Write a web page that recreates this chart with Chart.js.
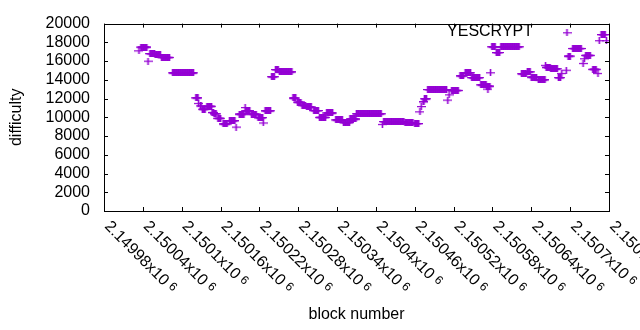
<html>
  <head>
    <script src="https://cdn.jsdelivr.net/npm/chart.js@4.4.0/dist/chart.umd.min.js"></script>
    <style>
      body { margin: 0; background: #fff; }
    </style>
  </head>
  <body>
    <canvas id="diffChart" width="640" height="330"></canvas>
    <script>
      // difficulty stays constant over runs of blocks, so keep the runs
      let firstBlock = 2149980;
      let runFrom = [54, 57, 68, 71, 79, 89, 106, 142, 146, 149, 152, 159, 167, 170, 176, 184, 194, 204, 209, 218,
        219, 228, 238, 246, 249, 259, 265, 271, 292, 299, 306, 313, 324, 333, 344, 358, 370, 380, 390, 430,
        432, 465, 480, 488, 490, 493, 495, 500, 531, 533, 537, 550, 558, 568, 582, 591, 593, 597, 599, 606,
        613, 645, 654, 660, 671, 682, 683, 690, 702, 707, 714, 717, 724, 740, 742, 744, 755, 763, 765, 768, 776];
      let runTo = [54, 66, 68, 78, 87, 101, 138, 145, 146, 150, 156, 166, 169, 173, 180, 190, 202, 204, 216, 218,
        225, 235, 245, 246, 257, 263, 269, 290, 296, 304, 311, 320, 331, 342, 353, 368, 379, 389, 428, 430,
        463, 477, 486, 488, 490, 494, 498, 529, 531, 533, 547, 555, 566, 580, 590, 596, 593, 597, 604, 611,
        641, 652, 658, 668, 681, 682, 689, 700, 705, 707, 714, 720, 737, 740, 742, 751, 760, 763, 765, 774, 776];
      let runDifficulty = [17100, 17500, 16000, 16800, 16700, 16400, 14750, 12080, 11490, 11220, 10870, 11180, 10520, 10380, 9900, 9300, 9650, 8960, 10350, 11040,
        10700, 10350, 9970, 9400, 10700, 14340, 15100, 14860, 12060, 11620, 11280, 11110, 10720, 10000, 10470, 9730, 9440, 9820, 10380, 9250,
        9550, 9400, 9340, 10590, 11150, 11670, 11980, 12970, 11840, 12400, 12880, 14430, 14760, 14240, 13470, 13330, 13020, 14760, 17530, 16920,
        17530, 14650, 14860, 14300, 14020, 15550, 15340, 15180, 14240, 14690, 15030, 16540, 17350, 15760, 16250, 16620, 15130, 14690, 18180, 18840, 18180];

      let xTickValues = [2149980, 2150040, 2150100, 2150160, 2150220, 2150280, 2150340, 2150400, 2150460, 2150520, 2150580, 2150640, 2150700, 2150760];
      let xTickLabels = ["2.14998", "2.15004", "2.1501", "2.15016", "2.15022", "2.15028", "2.15034", "2.1504", "2.15046", "2.15052", "2.15058", "2.15064", "2.1507", "2.15076"];
      let yTickValues = [0, 2000, 4000, 6000, 8000, 10000, 12000, 14000, 16000, 18000, 20000];

      const purple = '#9400d3';
      const fontFamily = '"Liberation Sans", Arial, sans-serif';

      let points = [];
      for (let i = 0; i < runFrom.length; i++) {
        for (let b = runFrom[i]; b <= runTo[i]; b++) {
          points.push({ x: firstBlock + b, y: runDifficulty[i] });
        }
      }

      // gnuplot style "+" marker, a bit wider than tall
      function makeCross() {
        let c = document.createElement('canvas');
        c.width = 9;
        c.height = 7;
        let g = c.getContext('2d');
        g.fillStyle = purple;
        g.fillRect(0, 3, 9, 1.2);
        g.fillRect(3.7, 0, 1.6, 7);
        return c;
      }
      const cross = makeCross();

      const frame = {
        id: 'frame',
        afterDraw(chart) {
          const ctx = chart.ctx;
          const a = chart.chartArea;
          const xs = chart.scales.x;
          const ys = chart.scales.y;
          ctx.save();
          ctx.strokeStyle = '#000';
          ctx.lineWidth = 1;
          ctx.strokeRect(Math.round(a.left) + 0.5, Math.round(a.top) + 0.5, Math.round(a.right - a.left), Math.round(a.bottom - a.top));

          ctx.beginPath();
          xTickValues.forEach(v => {
            let px = Math.round(xs.getPixelForValue(v)) + 0.5;
            ctx.moveTo(px, a.bottom);
            ctx.lineTo(px, a.bottom - 4);
            ctx.moveTo(px, a.top);
            ctx.lineTo(px, a.top + 4);
          });
          yTickValues.forEach(v => {
            let py = Math.round(ys.getPixelForValue(v)) + 0.5;
            ctx.moveTo(a.left, py);
            ctx.lineTo(a.left + 4, py);
            ctx.moveTo(a.right, py);
            ctx.lineTo(a.right - 4, py);
          });
          ctx.stroke();

          // rotated x labels with a superscript exponent
          ctx.fillStyle = '#000';
          ctx.textAlign = 'left';
          ctx.textBaseline = 'middle';
          xTickValues.forEach((v, i) => {
            let px = xs.getPixelForValue(v);
            ctx.save();
            ctx.translate(px + 3, a.bottom + 13);
            ctx.rotate(Math.PI / 4);
            ctx.font = '16px ' + fontFamily;
            let txt = xTickLabels[i] + 'x10';
            ctx.fillText(txt, 0, 0);
            let w = ctx.measureText(txt).width;
            ctx.font = '12px ' + fontFamily;
            ctx.fillText('6', w + 4, -2);
            ctx.restore();
          });

          ctx.font = '16px ' + fontFamily;
          ctx.textAlign = 'center';
          ctx.fillText('block number', (a.left + a.right) / 2, 315);

          ctx.save();
          ctx.translate(17, (a.top + a.bottom) / 2);
          ctx.rotate(-Math.PI / 2);
          ctx.fillText('difficulty', 0, 0);
          ctx.restore();

          // key
          ctx.textAlign = 'right';
          ctx.fillText('YESCRYPT', 533, 31.5);
          ctx.drawImage(cross, 567 - 4.5, 32.7 - 3.5);
          ctx.restore();
        }
      };

      window.onload = function() {
        window.diffChart = new Chart(document.getElementById('diffChart'), {
          type: 'scatter',
          data: {
            datasets: [{
              label: 'YESCRYPT',
              data: points,
              pointStyle: cross,
              pointRadius: 4,
              borderColor: purple,
              backgroundColor: purple
            }]
          },
          options: {
            responsive: false,
            animation: false,
            layout: {
              padding: { top: 19, right: 31, left: 0, bottom: 0 }
            },
            plugins: {
              legend: { display: false },
              tooltip: { enabled: false }
            },
            scales: {
              x: {
                type: 'linear',
                min: xTickValues[0],
                max: xTickValues[xTickValues.length - 1],
                ticks: { display: false, stepSize: 60 },
                grid: { display: false },
                border: { display: false },
                afterFit: s => { s.height = 119; }
              },
              y: {
                min: yTickValues[0],
                max: yTickValues[yTickValues.length - 1],
                ticks: {
                  stepSize: 2000,
                  autoSkip: false,
                  color: '#000',
                  padding: 14,
                  font: { family: fontFamily, size: 16 },
                  callback: v => String(v)
                },
                grid: { display: false, drawTicks: false },
                border: { display: false },
                afterFit: s => { s.width = 104; }
              }
            }
          },
          plugins: [frame]
        });
      };
    </script>
  </body>
</html>
